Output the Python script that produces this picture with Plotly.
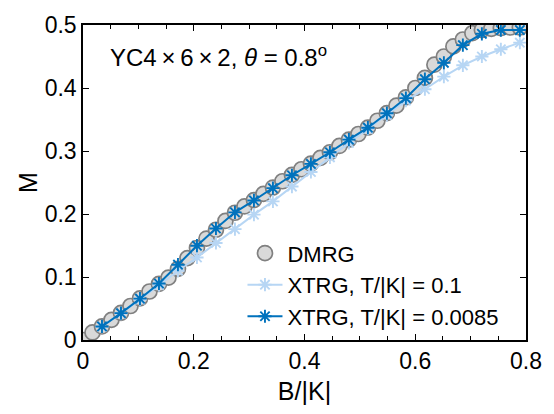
import plotly.graph_objects as go

# Magnetization curves M(B) for the YC4x6x2 lattice at theta = 0.8 deg
b_dmrg = [0.01715 * j for j in range(47)]
m_dmrg = [0.000, 0.012, 0.0215, 0.032, 0.043, 0.054, 0.066, 0.077, 0.089, 0.099,
          0.113, 0.130, 0.146, 0.161, 0.175, 0.189, 0.202, 0.212, 0.222, 0.232,
          0.242, 0.252, 0.262, 0.271, 0.280, 0.289, 0.298, 0.308, 0.318, 0.327,
          0.337, 0.348, 0.360, 0.372, 0.385, 0.400, 0.416, 0.437, 0.450, 0.466,
          0.477, 0.487, 0.492, 0.494, 0.495, 0.496, 0.496]

b_xtrg = [0.0343 * k for k in range(1, 24)]
m_xtrg_hi = [0.021, 0.042, 0.064, 0.087, 0.110, 0.131, 0.154, 0.176, 0.199, 0.220,
             0.2436, 0.2667, 0.290, 0.313, 0.335, 0.357, 0.380, 0.398, 0.418, 0.436,
             0.450, 0.4615, 0.472]
m_xtrg_lo = [0.0215, 0.0426, 0.0656, 0.0897, 0.1195, 0.1497, 0.177, 0.2026, 0.2215, 0.241,
             0.2615, 0.2795, 0.298, 0.318, 0.337, 0.360, 0.384, 0.414, 0.440, 0.468,
             0.486, 0.492, 0.492]

x_ticks = [0, 0.2, 0.4, 0.6, 0.8]
y_ticks = [0, 0.1, 0.2, 0.3, 0.4, 0.5]

FONT = "Liberation Sans, Arial, Helvetica, sans-serif"

fig = go.Figure()
fig.add_trace(go.Scatter(
    x=b_dmrg, y=m_dmrg, mode="markers", name="DMRG",
    marker=dict(symbol="circle", size=15, color="#d9d9d9",
                line=dict(color="#808080", width=1.7)),
))
fig.add_trace(go.Scatter(
    x=b_xtrg, y=m_xtrg_hi, mode="lines+markers", name="XTRG, T/|K| = 0.1",
    line=dict(color="#b7d6f4", width=2),
    marker=dict(symbol="asterisk-open", size=11,
                line=dict(color="#b7d6f4", width=1.9)),
))
fig.add_trace(go.Scatter(
    x=b_xtrg, y=m_xtrg_lo, mode="lines+markers", name="XTRG, T/|K| = 0.0085",
    line=dict(color="#0072bd", width=2),
    marker=dict(symbol="asterisk-open", size=11,
                line=dict(color="#0072bd", width=1.9)),
))

fig.add_annotation(
    x=0.045, y=0.451, xref="x", yref="y", xanchor="left", yanchor="middle",
    text="YC4\u2009×\u20096\u2009×\u20092, <i>θ</i> = 0.8<sup>o</sup>", showarrow=False,
    font=dict(family=FONT, size=24, color="black"),
)

axis_common = dict(
    showgrid=False, zeroline=False, showline=True, linecolor="black", linewidth=1.5,
    mirror="ticks", ticks="inside", ticklen=6, tickwidth=1.3, tickcolor="black",
    tickfont=dict(family=FONT, size=23, color="black"),
)

fig.update_xaxes(
    range=[0, 0.8], tickvals=x_ticks, ticktext=[f"{v:g}" for v in x_ticks],
    title=dict(text="B/|K|", font=dict(family=FONT, size=25, color="black"), standoff=9),
    minor=dict(dtick=0.05, ticks="inside", ticklen=4, tickwidth=1.3, tickcolor="black"),
    **axis_common,
)
fig.update_yaxes(
    range=[0, 0.5], tickvals=y_ticks, ticktext=[f"{v:g}" for v in y_ticks],
    title=dict(text="M", font=dict(family=FONT, size=25, color="black"), standoff=0),
    **axis_common,
)

fig.update_layout(
    width=554, height=414,
    margin=dict(l=83, r=17, t=15, b=74),
    plot_bgcolor="white", paper_bgcolor="white",
    legend=dict(x=0.36, y=0.342, xanchor="left", yanchor="top",
                bgcolor="rgba(0,0,0,0)", font=dict(family=FONT, size=22, color="black"),
                tracegroupgap=0, itemwidth=35),
)

fig.write_html("out.html")
